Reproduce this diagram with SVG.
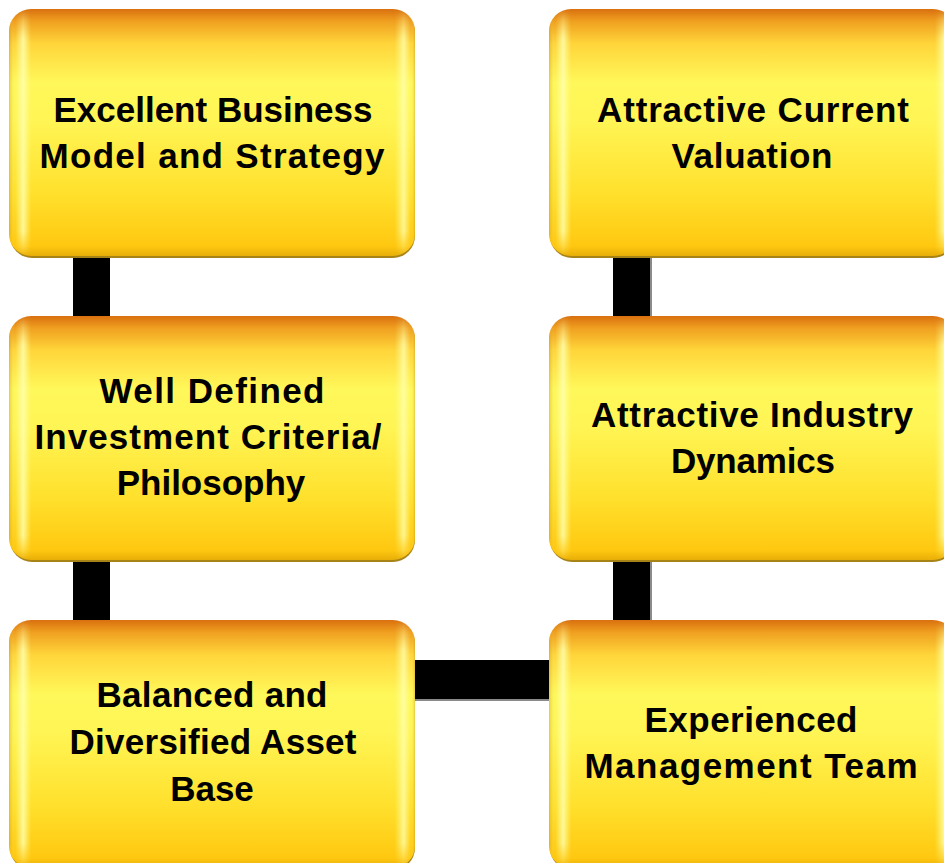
<svg xmlns="http://www.w3.org/2000/svg" width="944" height="863" viewBox="0 0 944 863">
  <defs>
    <!-- glossy yellow body: orange cap at the top, bright band, golden base -->
    <linearGradient id="body" x1="0" y1="0" x2="0" y2="1">
      <stop offset="0" stop-color="#D9700F"/>
      <stop offset="0.05" stop-color="#F0A020"/>
      <stop offset="0.14" stop-color="#FFD53A"/>
      <stop offset="0.30" stop-color="#FFF85A"/>
      <stop offset="0.45" stop-color="#FFF555"/>
      <stop offset="0.75" stop-color="#FFE02C"/>
      <stop offset="0.96" stop-color="#FFC810"/>
      <stop offset="1" stop-color="#E8AE08"/>
    </linearGradient>
    <!-- side sheen: pale strips just inside the left and right edges -->
    <linearGradient id="sheen" x1="0" y1="0" x2="1" y2="0">
      <stop offset="0" stop-color="#B07A10" stop-opacity="0.35"/>
      <stop offset="0.015" stop-color="#FFFFA0" stop-opacity="0"/>
      <stop offset="0.035" stop-color="#FFFFB0" stop-opacity="0.85"/>
      <stop offset="0.055" stop-color="#FFFF90" stop-opacity="0"/>
      <stop offset="0.95" stop-color="#FFFF90" stop-opacity="0"/>
      <stop offset="0.972" stop-color="#FFFFB0" stop-opacity="0.8"/>
      <stop offset="0.99" stop-color="#FFFFA0" stop-opacity="0"/>
      <stop offset="1" stop-color="#B07A10" stop-opacity="0.35"/>
    </linearGradient>
    <linearGradient id="fadeV" x1="0" y1="0" x2="0" y2="1">
      <stop offset="0" stop-color="#fff" stop-opacity="0"/>
      <stop offset="0.12" stop-color="#fff" stop-opacity="1"/>
      <stop offset="0.9" stop-color="#fff" stop-opacity="1"/>
      <stop offset="1" stop-color="#fff" stop-opacity="0"/>
    </linearGradient>
    <mask id="sheenMask" maskContentUnits="objectBoundingBox">
      <rect x="0" y="0" width="1" height="1" fill="url(#fadeV)"/>
    </mask>
    <style>
      .shadow { fill: #A88418; }
      .body { fill: url(#body); }
      .sheen { fill: url(#sheen); mask: url(#sheenMask); }
      .bar { fill: #000; }
      .barEdge { fill: #8a8a8a; }
      .label { font-family: "Liberation Sans", Arial, sans-serif; font-weight: bold; font-size: 35px; fill: #000; text-anchor: middle; }
    </style>
  </defs>

  <!-- connectors -->
  <g id="connectors">
    <rect class="bar" x="73" y="255" width="37" height="63"/>
    <rect class="bar" x="73" y="558" width="37" height="64"/>
    <rect class="barEdge" x="650" y="255" width="2" height="63"/>
    <rect class="bar" x="613" y="255" width="37" height="63"/>
    <rect class="barEdge" x="650" y="558" width="2" height="64"/>
    <rect class="bar" x="613" y="558" width="37" height="64"/>
    <rect class="barEdge" x="413" y="699" width="138" height="2"/>
    <rect class="bar" x="413" y="660" width="138" height="39"/>
  </g>

  <!-- left column -->
  <g id="business-model">
    <rect class="shadow" x="10" y="11" width="405" height="247" rx="22"/>
    <rect class="body" x="9" y="9" width="406" height="247" rx="22"/>
    <rect class="sheen" x="9" y="9" width="406" height="247" rx="22"/>
    <text class="label" x="213" y="122">Excellent Business</text>
    <text class="label" x="212" y="168" textLength="345">Model and  Strategy</text>
  </g>

  <g id="investment-criteria">
    <rect class="shadow" x="10" y="318" width="405" height="244" rx="22"/>
    <rect class="body" x="9" y="316" width="406" height="244" rx="22"/>
    <rect class="sheen" x="9" y="316" width="406" height="244" rx="22"/>
    <text class="label" x="212" y="403" textLength="225">Well Defined</text>
    <text class="label" x="208" y="449" textLength="347">Investment Criteria/</text>
    <text class="label" x="211" y="495">Philosophy</text>
  </g>

  <g id="asset-base">
    <rect class="shadow" x="10" y="622" width="405" height="248" rx="22"/>
    <rect class="body" x="9" y="620" width="406" height="248" rx="22"/>
    <rect class="sheen" x="9" y="620" width="406" height="248" rx="22"/>
    <text class="label" x="212" y="707" textLength="231">Balanced and</text>
    <text class="label" x="213" y="754" textLength="287">Diversified Asset</text>
    <text class="label" x="212" y="801">Base</text>
  </g>

  <!-- right column -->
  <g id="valuation">
    <rect class="shadow" x="550" y="11" width="405" height="247" rx="22"/>
    <rect class="body" x="549" y="9" width="406" height="247" rx="22"/>
    <rect class="sheen" x="549" y="9" width="406" height="247" rx="22"/>
    <text class="label" x="753" y="122" textLength="312">Attractive Current</text>
    <text class="label" x="752" y="168" textLength="161">Valuation</text>
  </g>

  <g id="industry-dynamics">
    <rect class="shadow" x="550" y="318" width="405" height="244" rx="22"/>
    <rect class="body" x="549" y="316" width="406" height="244" rx="22"/>
    <rect class="sheen" x="549" y="316" width="406" height="244" rx="22"/>
    <text class="label" x="752" y="427" textLength="322">Attractive Industry</text>
    <text class="label" x="753" y="473" textLength="164">Dynamics</text>
  </g>

  <g id="management-team">
    <rect class="shadow" x="550" y="622" width="405" height="248" rx="22"/>
    <rect class="body" x="549" y="620" width="406" height="248" rx="22"/>
    <rect class="sheen" x="549" y="620" width="406" height="248" rx="22"/>
    <text class="label" x="751" y="732" textLength="213">Experienced</text>
    <text class="label" x="751" y="778" textLength="333">Management Team</text>
  </g>
</svg>
